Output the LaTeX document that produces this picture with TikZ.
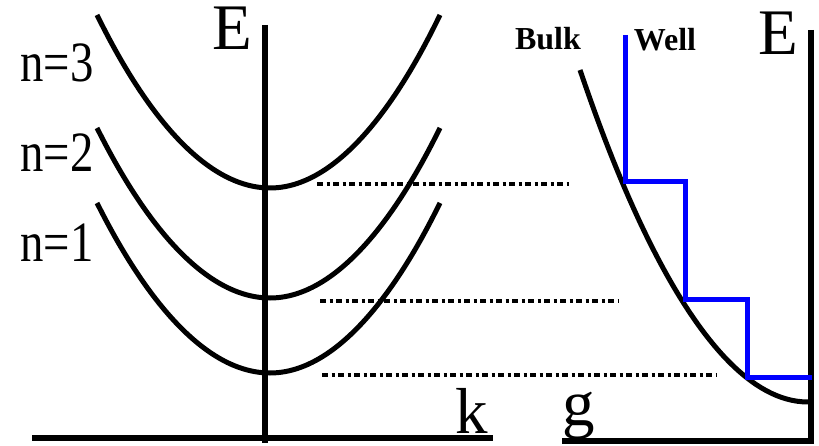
\documentclass[tikz,border=0pt]{standalone}
\usepackage{fontspec}
\setmainfont{Liberation Serif}
\definecolor{wellblue}{RGB}{0,0,255}
\usetikzlibrary{positioning}
\tikzset{
  axis/.style={line width=6pt, line cap=butt},
  band/.style={line width=5pt, black},
  level/.style={line width=3.4pt, dash pattern=on 6pt off 3.5pt on 3pt off 3.5pt},
  well/.style={line width=5pt, wellblue, line join=miter},
  biglabel/.style={anchor=base, inner sep=0pt, font=\fontsize{65}{65}\selectfont},
  nlabel/.style={anchor=base, inner sep=0pt, font=\fontsize{57}{57}\selectfont},
  smalllabel/.style={anchor=base, inner sep=0pt, font=\fontsize{32}{32}\selectfont\bfseries},
}
\begin{document}
\begin{tikzpicture}[x=1pt, y=-1pt]
\useasboundingbox (0,0) rectangle (819,446);

% left: subbands of the well
\draw[axis] (265,25) -- (265,443);
\draw[axis] (32,438) -- (493,438);
\node[biglabel] (Eleft) at (232,50) {E};
\node[biglabel] (klabel) at (472,433) {k};

\foreach \lab/\y/\v in {3/15/188, 2/128/298, 1/203/373}{
  \draw[band] (97,\y) parabola bend (270,\v) (440,\y);
}
\node[nlabel] (n3) at (57,82) {\scalebox{0.82}[1]{n=3}};
\node[nlabel] (n2) at (57,172) {\scalebox{0.82}[1]{n=2}};
\node[nlabel] (n1) at (57,262) {\scalebox{0.82}[1]{n=1}};

% dotted levels across
\draw[level] (317,184) -- (569,184);
\draw[level] (320,301) -- (618,301);
\draw[level] (322,375) -- (717,375);

% right: density of states
\draw[axis] (811,30) -- (811,444);
\draw[axis] (562,441) -- (814,441);
\node[biglabel] (Eright) at (778,55) {E};
\node[biglabel] (glabel) at (579,425) {g};
\node[smalllabel] (bulk) at (548,50) {Bulk};
\node[smalllabel] (wellname) at (665,51) {Well};

\draw[band] (580,70) parabola[bend at end] (808,402);
\draw[well] (625,35) -- (625,182) -- (685,182) -- (685,300)
  -- (747,300) -- (747,377) -- (812,377);
\end{tikzpicture}
\end{document}
